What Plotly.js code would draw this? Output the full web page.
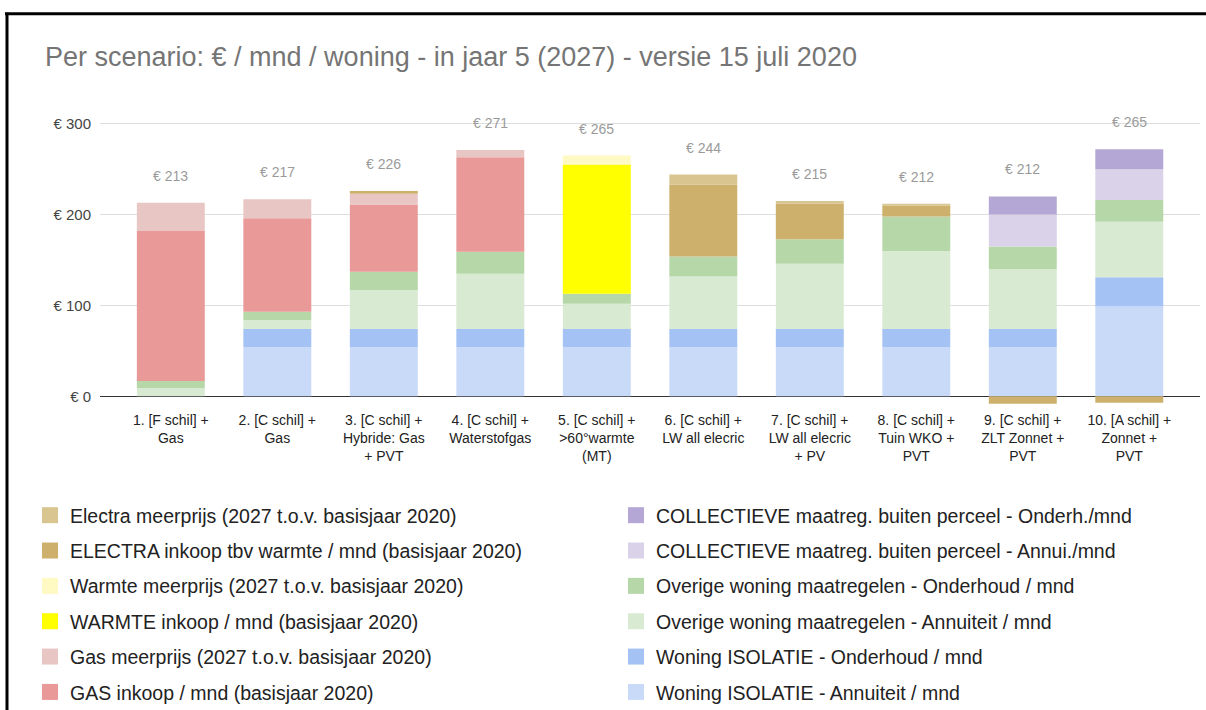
<!DOCTYPE html>
<html>
<head>
<meta charset="utf-8">
<script src="https://cdn.plot.ly/plotly-3.0.1.min.js"></script>
<style>
  html, body { margin: 0; padding: 0; background: #ffffff; }
  #chart { width: 1206px; height: 710px; }
</style>
</head>
<body>
<div id="chart"></div>
<script>
// ---- Data ----
const categories = [
  "1. [F schil] +<br>Gas",
  "2. [C schil] +<br>Gas",
  "3. [C schil] +<br>Hybride: Gas<br>+ PVT",
  "4. [C schil] +<br>Waterstofgas",
  "5. [C schil] +<br>&gt;60°warmte<br>(MT)",
  "6. [C schil] +<br>LW all elecric",
  "7. [C schil] +<br>LW all elecric<br>+ PV",
  "8. [C schil] +<br>Tuin WKO +<br>PVT",
  "9. [C schil] +<br>ZLT Zonnet +<br>PVT",
  "10. [A schil] +<br>Zonnet +<br>PVT"
];

const isolatieAnnuiteit   = [0, 54, 54, 54, 54, 54, 54, 54, 54, 99];
const isolatieOnderhoud   = [0, 20, 20, 20, 20, 20, 20, 20, 20, 32];
const overigeAnnuiteit    = [9, 10, 43, 61, 28, 58, 72, 86, 66, 61];
const overigeOnderhoud    = [8, 9, 20, 24, 11, 22, 27, 38, 25, 24];
const collectiefAnnuiteit = [0, 0, 0, 0, 0, 0, 0, 0, 35, 34];
const collectiefOnderhoud = [0, 0, 0, 0, 0, 0, 0, 0, 20, 22];
const gasInkoop           = [165, 103, 74, 104, 0, 0, 0, 0, 0, 0];
const gasMeerprijs        = [31, 21, 12, 8, 0, 0, 0, 0, 0, 0];
const warmteInkoop        = [0, 0, 0, 0, 142, 0, 0, 0, 0, 0];
const warmteMeerprijs     = [0, 0, 0, 0, 10, 0, 0, 0, 0, 0];
const electraInkoop       = [0, 0, 3, 0, 0, 79, 39, 12, -8, -7];
const electraMeerprijs    = [0, 0, 0, 0, 0, 11, 3, 2, 0, 0];

const totals = [213, 217, 226, 271, 265, 244, 215, 212, 212, 265];

const yTickVals = [0, 100, 200, 300];
const yTickText = ["€ 0", "€ 100", "€ 200", "€ 300"];

// ---- Series definitions (stack order: bottom first); rank = position in its legend column ----
const series = [
  {name: "Woning ISOLATIE - Annuiteit / mnd", y: isolatieAnnuiteit, color: "#c9daf8", legend: "legend2", rank: 6},
  {name: "Woning ISOLATIE - Onderhoud / mnd", y: isolatieOnderhoud, color: "#a4c2f4", legend: "legend2", rank: 5},
  {name: "Overige woning maatregelen - Annuiteit / mnd", y: overigeAnnuiteit, color: "#d9ead3", legend: "legend2", rank: 4},
  {name: "Overige woning maatregelen - Onderhoud / mnd", y: overigeOnderhoud, color: "#b6d7a8", legend: "legend2", rank: 3},
  {name: "COLLECTIEVE maatreg. buiten perceel - Annui./mnd", y: collectiefAnnuiteit, color: "#d9d2e9", legend: "legend2", rank: 2},
  {name: "COLLECTIEVE maatreg. buiten perceel - Onderh./mnd", y: collectiefOnderhoud, color: "#b4a7d6", legend: "legend2", rank: 1},
  {name: "GAS inkoop / mnd (basisjaar 2020)", y: gasInkoop, color: "#ea9999", legend: "legend", rank: 6},
  {name: "Gas meerprijs (2027 t.o.v. basisjaar 2020)", y: gasMeerprijs, color: "#e8c6c4", legend: "legend", rank: 5},
  {name: "WARMTE inkoop / mnd (basisjaar 2020)", y: warmteInkoop, color: "#ffff00", legend: "legend", rank: 4},
  {name: "Warmte meerprijs (2027 t.o.v. basisjaar 2020)", y: warmteMeerprijs, color: "#fff9c4", legend: "legend", rank: 3},
  {name: "ELECTRA inkoop tbv warmte / mnd (basisjaar 2020)", y: electraInkoop, color: "#ccb06c", legend: "legend", rank: 2},
  {name: "Electra meerprijs (2027 t.o.v. basisjaar 2020)", y: electraMeerprijs, color: "#d8c590", legend: "legend", rank: 1}
];

const barTraces = series.map(s => ({
  type: "bar",
  name: s.name,
  x: categories,
  y: s.y,
  marker: {color: s.color, line: {width: 0}},
  showlegend: false,
  legendgroup: s.name,
  hoverinfo: "name+y"
}));

// legend-only entries (square swatches, like the reference legend)
const legendTraces = series.map(s => ({
  type: "scatter",
  mode: "markers",
  name: s.name,
  x: [categories[0]],
  y: [null],
  marker: {symbol: "square", size: 16, color: s.color, line: {width: 0}},
  legend: s.legend,
  legendgroup: s.name,
  legendrank: s.rank,
  hoverinfo: "skip"
}));

// positive stack top per category (for placing the total labels)
const posTop = categories.map((c, i) =>
  series.reduce((acc, s) => acc + Math.max(0, s.y[i]), 0));

const annotations = categories.map((c, i) => ({
  x: c, y: posTop[i], xref: "x", yref: "y",
  text: "€ " + totals[i],
  showarrow: false, yanchor: "middle", yshift: 27,
  font: {family: "Liberation Sans, Arial, sans-serif", size: 14, color: "#9a9a9a"}
}));

// layout geometry
const W = 1206, H = 710;
const mL = 100, mR = 6, mT = 100.5, mB = 299.6;
const yMin = -15, yMax = 325;
const plotH = H - mT - mB, plotW = W - mL - mR;
const px2paperX = px => (px - mL) / plotW;
const px2paperY = py => (H - mB - py) / plotH;

const shapes = [
  {type: "line", xref: "paper", yref: "paper",
   x0: px2paperX(5), x1: px2paperX(1206), y0: px2paperY(13), y1: px2paperY(13),
   line: {color: "#000000", width: 3}},
  {type: "line", xref: "paper", yref: "paper",
   x0: px2paperX(7), x1: px2paperX(7), y0: px2paperY(12), y1: px2paperY(712),
   line: {color: "#000000", width: 3}}
];

const legendCommon = {
  xref: "container", yref: "container",
  xanchor: "left", yanchor: "top",
  orientation: "v",
  traceorder: "grouped",
  tracegroupgap: 7,
  bgcolor: "rgba(0,0,0,0)",
  font: {family: "Liberation Sans, Arial, sans-serif", size: 19.5, color: "#222222"}
};

const layout = {
  width: W, height: H,
  margin: {l: mL, r: mR, t: mT, b: mB, pad: 0, autoexpand: false},
  paper_bgcolor: "#ffffff",
  plot_bgcolor: "#ffffff",
  barmode: "relative",
  bargap: 0.362,
  font: {family: "Liberation Sans, Arial, sans-serif", color: "#222222"},
  title: {
    text: "Per scenario: € / mnd / woning - in jaar 5 (2027) - versie 15 juli 2020",
    font: {family: "Liberation Sans, Arial, sans-serif", size: 27, color: "#757575"},
    x: 45 / W, xref: "container", xanchor: "left",
    y: 1 - 57 / H, yref: "container", yanchor: "middle",
    automargin: false
  },
  xaxis: {
    type: "category",
    range: [-0.665, 9.664],
    showgrid: false, zeroline: false, showline: false,
    ticks: "",
    tickfont: {family: "Liberation Sans, Arial, sans-serif", size: 14, color: "#222222"},
    tickangle: 0,
    automargin: false,
    fixedrange: true
  },
  yaxis: {
    range: [yMin, yMax],
    tickvals: yTickVals, ticktext: yTickText,
    showgrid: true, gridcolor: "#dedede", gridwidth: 1,
    zeroline: true, zerolinecolor: "#333333", zerolinewidth: 1.5,
    showline: false, ticks: "",
    ticklabelstandoff: 8,
    tickfont: {family: "Liberation Sans, Arial, sans-serif", size: 15, color: "#444444"},
    automargin: false,
    fixedrange: true
  },
  legend: Object.assign({}, legendCommon, {x: 30 / W, y: 1 - 496 / H}),
  legend2: Object.assign({}, legendCommon, {x: 616 / W, y: 1 - 496 / H}),
  annotations: annotations,
  shapes: shapes,
  showlegend: true
};

Plotly.newPlot("chart", barTraces.concat(legendTraces), layout, {displayModeBar: false, staticPlot: true});
</script>
</body>
</html>
